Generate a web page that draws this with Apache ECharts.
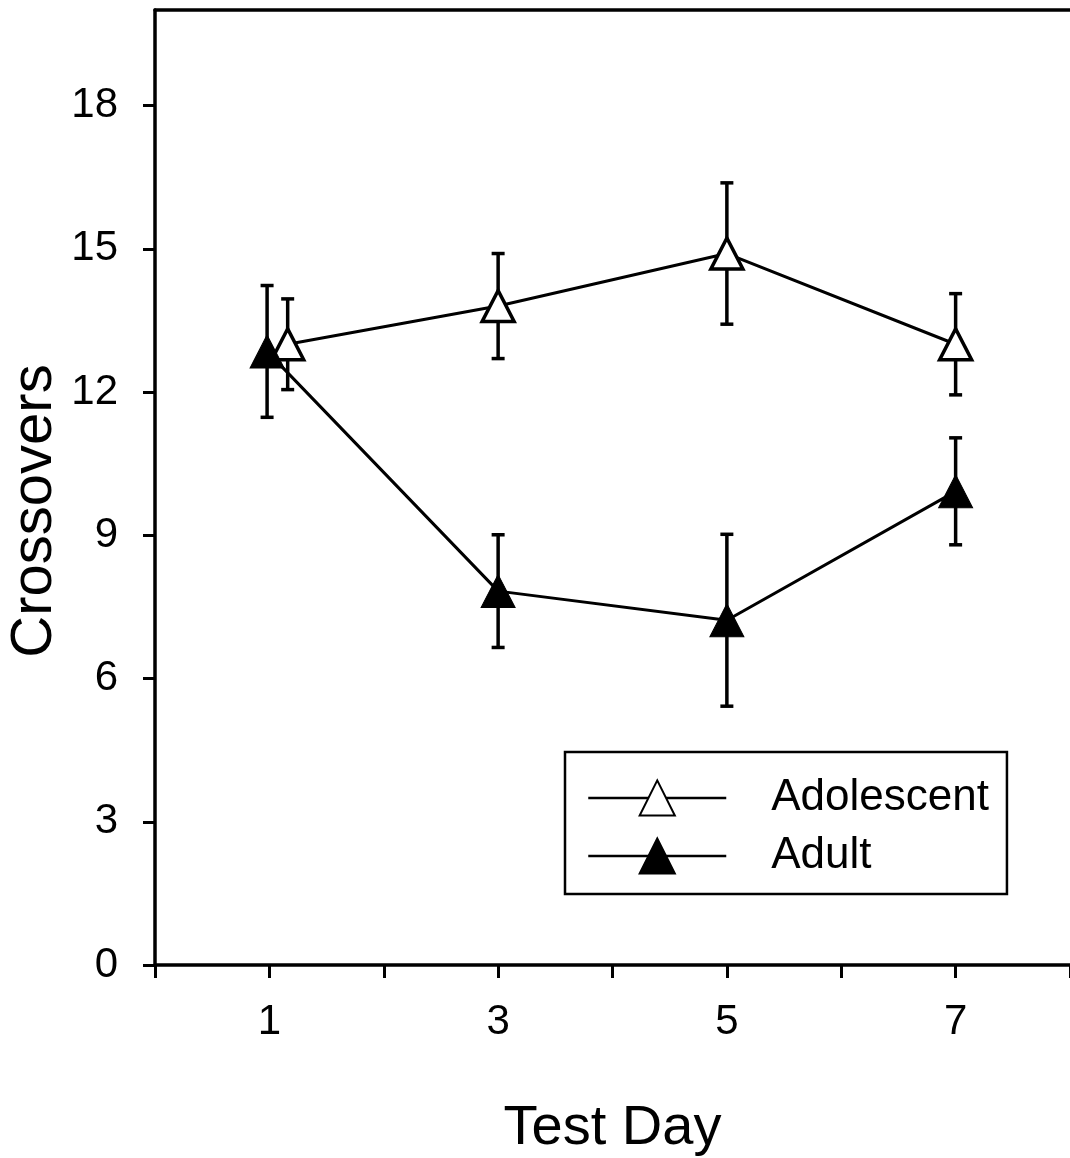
<!DOCTYPE html>
<html>
<head>
<meta charset="utf-8">
<script src="https://cdn.jsdelivr.net/npm/echarts@6/dist/echarts.min.js"></script>
<style>html,body{margin:0;padding:0;background:#fff;}#c{width:1070px;height:1158px;}</style>
</head>
<body>
<div id="c"></div>
<script>
const seriesNames = ['Adolescent', 'Adult'];
const adolescentX = [1.16, 3, 5, 7];
const adolescentMean = [13.0, 13.8, 14.9, 13.0];
const adolescentErr = [0.95, 1.1, 1.48, 1.06];
const adultX = [0.98, 3, 5, 7];
const adultMean = [12.85, 7.83, 7.22, 9.92];
const adultErr = [1.38, 1.18, 1.8, 1.12];
const xTickValues = [0, 1, 2, 3, 4, 5, 6, 7, 8];
const xLabelValues = [1, 3, 5, 7];
const yTickValues = [0, 3, 6, 9, 12, 15, 18];

const FONT = '"Liberation Sans", Arial, sans-serif';
const chart = echarts.init(document.getElementById('c'), null, {renderer: 'canvas'});

function pts(xs, ys) { return xs.map((x, i) => [x, ys[i]]); }
function errData(xs, ys, es) { return xs.map((x, i) => [x, ys[i] - es[i], ys[i] + es[i]]); }

function renderErr(params, api) {
  const x = api.value(0);
  const lo = api.coord([x, api.value(1)]);
  const hi = api.coord([x, api.value(2)]);
  const cap = 6.5;
  const st = {stroke: '#000', lineWidth: 3.5};
  return {
    type: 'group',
    children: [
      {type: 'line', shape: {x1: lo[0], y1: lo[1], x2: hi[0], y2: hi[1]}, style: st},
      {type: 'line', shape: {x1: lo[0] - cap, y1: lo[1], x2: lo[0] + cap, y2: lo[1]}, style: st},
      {type: 'line', shape: {x1: hi[0] - cap, y1: hi[1], x2: hi[0] + cap, y2: hi[1]}, style: st}
    ]
  };
}

const option = {
  animation: false,
  backgroundColor: '#fff',
  grid: {left: 155, right: 0, top: 10, bottom: 193, containLabel: false, outerBoundsMode: 'none'},
  legend: {
    orient: 'vertical',
    left: 565, top: 752,
    width: 440,
    padding: [24, 18, 16, 22],
    borderColor: '#000', borderWidth: 2.5,
    itemWidth: 138, itemHeight: 44, itemGap: 14,
    lineStyle: {width: 2.5, color: '#000'},
    data: seriesNames,
    textStyle: {fontFamily: FONT, fontSize: 44, color: '#000', lineHeight: 44, padding: [0, 0, 0, 40]}
  },
  xAxis: [{
    type: 'value', min: 0, max: 8, interval: 1,
    name: 'Test Day', nameLocation: 'middle', nameGap: 136,
    nameTextStyle: {fontFamily: FONT, fontSize: 56, color: '#000'},
    axisLine: {show: true, onZero: false, lineStyle: {color: '#000', width: 3.5}},
    axisTick: {show: true, length: 13, lineStyle: {color: '#000', width: 3}, customValues: xTickValues},
    axisLabel: {fontFamily: FONT, fontSize: 42, color: '#000', margin: 36, customValues: xLabelValues},
    splitLine: {show: false}
  }, {
    type: 'value', position: 'top', min: 0, max: 8,
    axisLine: {show: true, onZero: false, lineStyle: {color: '#000', width: 3.5}},
    axisTick: {show: false}, axisLabel: {show: false}, splitLine: {show: false}
  }],
  yAxis: {
    type: 'value', min: 0, max: 20, interval: 3,
    axisLine: {show: true, onZero: false, lineStyle: {color: '#000', width: 3.5}},
    axisTick: {show: true, length: 12, lineStyle: {color: '#000', width: 3}, customValues: yTickValues},
    axisLabel: {fontFamily: FONT, fontSize: 42, color: '#000', margin: 37, customValues: yTickValues},
    splitLine: {show: false}
  },
  graphic: [{
    type: 'text', x: 35, y: 511, rotation: Math.PI / 2,
    style: {text: 'Crossovers', fontFamily: FONT, fontSize: 58, fill: '#000', textAlign: 'center', textVerticalAlign: 'middle'}
  }],
  series: [
    {type: 'custom', name: 'errAdol', renderItem: renderErr, data: errData(adolescentX, adolescentMean, adolescentErr), z: 1, silent: true},
    {type: 'custom', name: 'errAdult', renderItem: renderErr, data: errData(adultX, adultMean, adultErr), z: 1, silent: true},
    {
      type: 'line', name: 'Adolescent', data: pts(adolescentX, adolescentMean), z: 3,
      symbol: 'triangle', symbolSize: [32, 31],
      lineStyle: {color: '#000', width: 3},
      itemStyle: {color: '#fff', borderColor: '#000', borderWidth: 3.5}
    },
    {
      type: 'line', name: 'Adult', data: pts(adultX, adultMean), z: 4,
      symbol: 'triangle', symbolSize: [34, 33],
      lineStyle: {color: '#000', width: 3},
      itemStyle: {color: '#000', borderColor: '#000', borderWidth: 1}
    }
  ]
};
chart.setOption(option);
</script>
</body>
</html>
